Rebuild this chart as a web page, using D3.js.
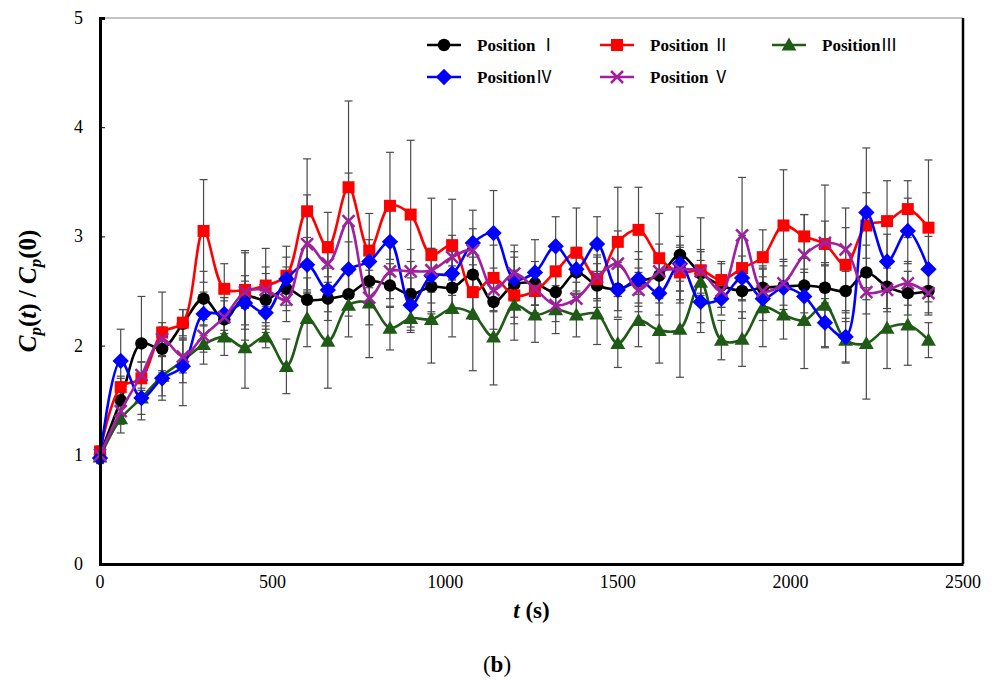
<!DOCTYPE html>
<html>
<head>
<meta charset="utf-8">
<script src="https://cdn.jsdelivr.net/npm/d3@7"></script>
<style>
  body { margin: 0; background: #fff; }
  svg { display: block; }
</style>
</head>
<body>
<svg id="chart" width="995" height="690"></svg>
<script>
// sampling times (s)
const times = [0,60,120,180,240,300,360,420,480,540,600,660,720,780,840,900,960,1020,1080,1140,1200,1260,1320,1380,1440,1500,1560,1620,1680,1740,1800,1860,1920,1980,2040,2100,2160,2220,2280,2340,2400]

// Cp(t)/Cp(0) per position
const posI   = [1.00,1.50,2.02,1.97,2.20,2.43,2.24,2.45,2.42,2.52,2.42,2.43,2.47,2.59,2.55,2.47,2.54,2.53,2.65,2.40,2.56,2.57,2.49,2.67,2.55,2.52,2.59,2.64,2.83,2.66,2.55,2.50,2.53,2.54,2.55,2.53,2.50,2.67,2.54,2.48,2.50]
const posII  = [1.03,1.62,1.70,2.12,2.21,3.05,2.52,2.51,2.55,2.64,3.23,2.90,3.45,2.87,3.28,3.20,2.83,2.92,2.49,2.62,2.46,2.50,2.68,2.85,2.61,2.95,3.06,2.80,2.67,2.69,2.60,2.71,2.81,3.10,3.00,2.93,2.74,3.10,3.14,3.25,3.08]
const posIII = [0.98,1.33,1.52,1.72,1.86,2.01,2.08,1.98,2.08,1.81,2.25,2.04,2.37,2.39,2.16,2.25,2.24,2.34,2.29,2.08,2.37,2.28,2.33,2.28,2.29,2.02,2.23,2.14,2.15,2.58,2.05,2.06,2.35,2.28,2.23,2.37,2.05,2.02,2.16,2.19,2.05]
const posIV  = [0.97,1.86,1.52,1.70,1.81,2.29,2.29,2.39,2.30,2.61,2.74,2.51,2.70,2.77,2.95,2.37,2.64,2.66,2.94,3.03,2.61,2.67,2.91,2.70,2.93,2.51,2.61,2.48,2.75,2.40,2.43,2.62,2.43,2.53,2.45,2.21,2.08,3.22,2.77,3.05,2.70]
const posV   = [1.00,1.40,1.73,2.06,1.90,2.09,2.26,2.49,2.51,2.42,2.93,2.75,3.14,2.44,2.68,2.68,2.69,2.81,2.87,2.51,2.66,2.52,2.37,2.43,2.63,2.75,2.51,2.68,2.70,2.68,2.50,3.01,2.50,2.57,2.83,2.94,2.88,2.49,2.51,2.57,2.48]

// error bar half lengths
const errI   = [0.05,0.20,0.43,0.20,0.13,0.25,0.20,0.40,0.30,0.20,0.20,0.20,0.20,0.20,0.20,0.30,0.25,0.20,0.20,0.25,0.36,0.20,0.20,0.20,0.20,0.20,0.20,0.20,0.44,0.20,0.20,0.25,0.20,0.25,0.25,0.20,0.20,0.25,0.20,0.20,0.20]
const errII  = [0.05,0.10,0.15,0.37,0.12,0.47,0.23,0.36,0.34,0.27,0.48,0.32,0.79,0.34,0.49,0.68,0.52,0.42,0.25,0.30,0.20,0.20,0.20,0.41,0.20,0.50,0.39,0.41,0.25,0.48,0.17,0.30,0.25,0.51,0.20,0.54,0.52,0.30,0.37,0.26,0.62]
const errIII = [0.05,0.13,0.15,0.18,0.20,0.18,0.17,0.37,0.10,0.25,0.26,0.43,0.29,0.50,0.20,0.11,0.40,0.26,0.52,0.44,0.32,0.25,0.22,0.20,0.28,0.22,0.24,0.30,0.44,0.20,0.18,0.25,0.36,0.22,0.44,0.39,0.20,0.51,0.37,0.37,0.16]
const errIV  = [0.05,0.29,0.20,0.20,0.36,0.20,0.15,0.20,0.15,0.20,0.25,0.20,0.25,0.20,0.30,0.25,0.25,0.20,0.30,0.39,0.20,0.30,0.27,0.20,0.25,0.25,0.25,0.20,0.25,0.28,0.15,0.20,0.20,0.20,0.25,0.22,0.24,0.59,0.25,0.30,0.30]
const errV   = [0.05,0.12,0.12,0.15,0.15,0.15,0.15,0.15,0.15,0.20,0.45,0.20,0.44,0.25,0.25,0.20,0.20,0.20,0.20,0.20,0.20,0.15,0.15,0.15,0.20,0.30,0.20,0.25,0.20,0.20,0.15,0.53,0.20,0.20,0.37,0.20,0.20,0.20,0.20,0.20,0.20]

// legend labels: word + roman numeral (full-width glyphs)
const names    = ["Position ", "Position ", "Position", "Position", "Position "]
const numerals = ["\u2160", "\u2161", "\u2162", "\u2163", "\u2164"]
const xTicks = [0, 500, 1000, 1500, 2000, 2500]
const yTicks = [0, 1, 2, 3, 4, 5]

const series = [
  {values: posI,   err: errI,   color: "#000000", symbol: "circle"},
  {values: posII,  err: errII,  color: "#ff0000", symbol: "square"},
  {values: posIII, err: errIII, color: "#1f5a16", symbol: "triangle"},
  {values: posIV,  err: errIV,  color: "#0000ff", symbol: "diamond"},
  {values: posV,   err: errV,   color: "#a0209f", symbol: "cross"}
]

const margin = {left: 100, right: 32, top: 18, bottom: 126}
const width = 995, height = 690
const x = d3.scaleLinear().domain([0, 2500]).range([margin.left, width - margin.right])
const y = d3.scaleLinear().domain([0, 5]).range([height - margin.bottom, margin.top])

const svg = d3.select("#chart")
const serif = "'Liberation Serif', 'Times New Roman', 'DejaVu Serif', serif"

// markers
function drawMarker(g, symbol, color, size) {
  if (symbol === "circle") {
    g.append("circle").attr("r", size * 0.52).attr("fill", color)
  } else if (symbol === "square") {
    g.append("rect").attr("x", -size / 2).attr("y", -size / 2).attr("width", size).attr("height", size).attr("fill", color)
  } else if (symbol === "triangle") {
    const s = size * 0.62
    g.append("path").attr("d", `M0,${-s}L${s},${s * 0.75}L${-s},${s * 0.75}Z`).attr("fill", color)
  } else if (symbol === "diamond") {
    const s = size * 0.68
    g.append("path").attr("d", `M0,${-s}L${s},0L0,${s}L${-s},0Z`).attr("fill", color)
  } else {
    const s = size * 0.5
    g.append("path").attr("d", `M${-s},${-s}L${s},${s}M${-s},${s}L${s},${-s}`)
      .attr("stroke", color).attr("stroke-width", 2.5).attr("fill", "none")
  }
}

// error bars
const eb = svg.append("g").attr("stroke", "#4a4a4a").attr("stroke-width", 1.2)
series.forEach(s => {
  s.values.forEach((v, i) => {
    const cx = x(times[i])
    const top = y(v + s.err[i]), bot = y(v - s.err[i])
    eb.append("line").attr("x1", cx).attr("x2", cx).attr("y1", top).attr("y2", bot)
    eb.append("line").attr("x1", cx - 4).attr("x2", cx + 4).attr("y1", top).attr("y2", top)
    eb.append("line").attr("x1", cx - 4).attr("x2", cx + 4).attr("y1", bot).attr("y2", bot)
  })
})

// smoothed lines and markers
const line = d3.line().x((d, i) => x(times[i])).y(d => y(d)).curve(d3.curveCatmullRom.alpha(0.5))
series.forEach(s => {
  svg.append("path").datum(s.values).attr("d", line)
    .attr("fill", "none").attr("stroke", s.color).attr("stroke-width", 2.6)
  const pts = svg.append("g")
  s.values.forEach((v, i) => {
    const g = pts.append("g").attr("transform", `translate(${x(times[i])},${y(v)})`)
    drawMarker(g, s.symbol, s.color, 12)
  })
})

// frame
svg.append("line").attr("x1", x(0)).attr("x2", x(2500)).attr("y1", y(5)).attr("y2", y(5))
  .attr("stroke", "#888").attr("stroke-width", 1)
svg.append("line").attr("x1", x(2500)).attr("x2", x(2500)).attr("y1", y(5)).attr("y2", y(0))
  .attr("stroke", "#000").attr("stroke-width", 2.5)

// axes
const yAxis = svg.append("g").attr("transform", `translate(${x(0)},0)`)
  .call(d3.axisRight(y).tickValues(yTicks).tickSize(5).tickFormat(""))
yAxis.select(".domain").attr("stroke-width", 3)
svg.append("g").selectAll("text").data(yTicks).join("text")
  .attr("x", x(0) - 17).attr("y", d => y(d) + 6)
  .attr("text-anchor", "end").attr("font-family", serif).attr("font-size", 18)
  .text(d => d)

const xAxis = svg.append("g").attr("transform", `translate(0,${y(0)})`)
  .call(d3.axisTop(x).tickValues(xTicks).tickSize(0).tickFormat(""))
xAxis.select(".domain").attr("stroke-width", 3)
svg.append("g").selectAll("text").data(xTicks).join("text")
  .attr("x", d => x(d)).attr("y", y(0) + 24)
  .attr("text-anchor", "middle").attr("font-family", serif).attr("font-size", 18)
  .text(d => d)

// axis titles
const yt = svg.append("text").attr("transform", `translate(36,${(y(0) + y(5)) / 2}) rotate(-90)`)
  .attr("text-anchor", "middle").attr("font-family", serif).attr("font-size", 25)
  .attr("font-weight", "bold").attr("font-style", "italic")
yt.append("tspan").text("C")
yt.append("tspan").attr("font-size", 17).attr("dy", 5).text("p")
yt.append("tspan").attr("dy", -5).attr("font-style", "normal").text("(")
yt.append("tspan").text("t")
yt.append("tspan").attr("font-style", "normal").text(") / ")
yt.append("tspan").text("C")
yt.append("tspan").attr("font-size", 17).attr("dy", 5).text("p")
yt.append("tspan").attr("dy", -5).attr("font-style", "normal").text("(0)")

const xt = svg.append("text").attr("x", (x(0) + x(2500)) / 2).attr("y", 618)
  .attr("text-anchor", "middle").attr("font-family", serif).attr("font-size", 23).attr("font-weight", "bold")
xt.append("tspan").attr("font-style", "italic").text("t")
xt.append("tspan").text(" (s)")

const cap = svg.append("text").attr("x", 497).attr("y", 672)
  .attr("text-anchor", "middle").attr("font-family", serif).attr("font-size", 23)
cap.append("tspan").text("(")
cap.append("tspan").attr("font-weight", "bold").text("b")
cap.append("tspan").text(")")

// legend
const legendPos = [[427, 45], [600, 45], [772, 45], [427, 77], [600, 77]]
series.forEach((s, i) => {
  const [lx, ly] = legendPos[i]
  const g = svg.append("g")
  g.append("line").attr("x1", lx).attr("x2", lx + 34).attr("y1", ly).attr("y2", ly)
    .attr("stroke", s.color).attr("stroke-width", 2.6)
  const m = g.append("g").attr("transform", `translate(${lx + 17},${ly})`)
  drawMarker(m, s.symbol, s.color, 12)
  const t = g.append("text").attr("x", lx + 50).attr("y", ly + 6)
    .attr("font-family", serif).attr("font-size", 17).attr("font-weight", "bold")
  t.append("tspan").text(names[i])
  t.append("tspan").attr("font-family", "'Noto Sans CJK SC', sans-serif").attr("font-weight", "normal")
    .text(numerals[i])
})
</script>
</body>
</html>
